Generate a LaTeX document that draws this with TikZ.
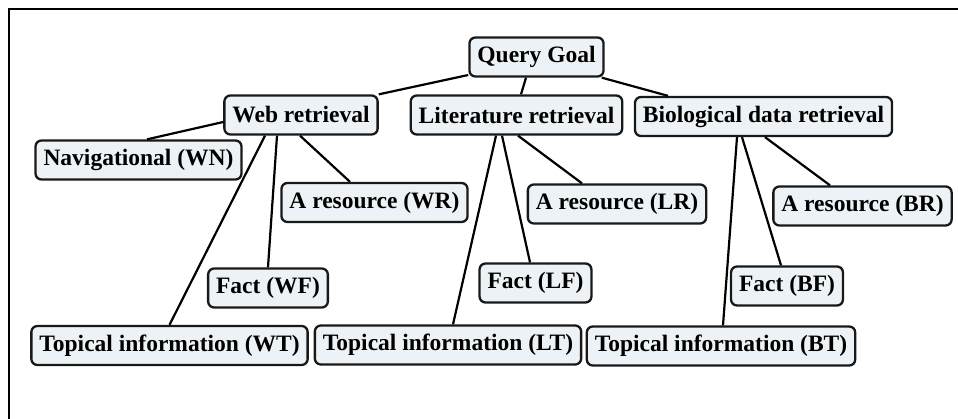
\documentclass[tikz,border=0pt]{standalone}
\usepackage{fontspec}
\setmainfont{Liberation Serif}
\usepackage{tikz}

\definecolor{boxfill}{HTML}{ECF2F5}

\begin{document}
\begin{tikzpicture}[x=1pt,y=-1pt,
	goal/.style={draw=black!90,fill=boxfill,line width=2.3pt,rounded corners=6pt,
		minimum height=39pt,inner xsep=8pt,inner ysep=2pt,
		font=\fontsize{23.5}{27}\selectfont\bfseries},
	link/.style={line width=2.2pt}]
	\useasboundingbox (0,0) rectangle (958,419);
	% frame
	\draw[line width=2.2pt] (9,419) -- (9,9) -- (958,9);

	\node[goal] (qg) at (536.5,57) {Query Goal};
	\node[goal] (web) at (301,115) {Web retrieval};
	\node[goal] (lit) at (516.5,115) {Literature retrieval};
	\node[goal] (bio) at (763.5,116.5) {Biological data retrieval};

	\node[goal] (wn) at (138.5,160) {Navigational (WN)};
	\node[goal] (wr) at (374.5,202.5) {A resource (WR)};
	\node[goal] (wf) at (268,288) {Fact (WF)};
	\node[goal] (wt) at (169.5,345.5) {Topical information (WT)};

	\node[goal] (lr) at (617,204) {A resource (LR)};
	\node[goal] (lf) at (535.5,283) {Fact (LF)};
	\node[goal] (lt) at (448,345) {Topical information (LT)};

	\node[goal] (br) at (862.5,206) {A resource (BR)};
	\node[goal] (bf) at (787,286) {Fact (BF)};
	\node[goal] (bt) at (721,346) {Topical information (BT)};

	% top level
	\draw[link] ([yshift=-18pt]qg.west) -- (web.north east);
	\draw[link] ([xshift=-10.5pt]qg.south) -- ([xshift=4.5pt]lit.north);
	\draw[link] ([xshift=-3pt]qg.south east) -- ([xshift=-95.5pt]bio.north);
	% web
	\draw[link] ([yshift=-7pt]web.west) -- ([xshift=8.5pt]wn.north);
	\draw[link] ([xshift=-36pt]web.south) -- (wt.north);
	\draw[link] ([xshift=-24pt]web.south) -- (wf.north);
	\draw[link] ([xshift=-1pt]web.south) -- ([xshift=-24.5pt]wr.north);
	% literature
	\draw[link] ([xshift=-20.5pt]lit.south) -- ([xshift=5pt]lt.north);
	\draw[link] ([xshift=-14.5pt]lit.south) -- ([xshift=-5.5pt]lf.north);
	\draw[link] ([xshift=1.5pt]lit.south) -- ([xshift=-35pt]lr.north);
	% biological
	\draw[link] ([xshift=-26.5pt]bio.south) -- ([xshift=2pt]bt.north);
	\draw[link] ([xshift=-21.5pt]bio.south) -- ([xshift=-6pt]bf.north);
	\draw[link] ([xshift=1.5pt]bio.south) -- ([xshift=-32.5pt]br.north);

\end{tikzpicture}
\end{document}
